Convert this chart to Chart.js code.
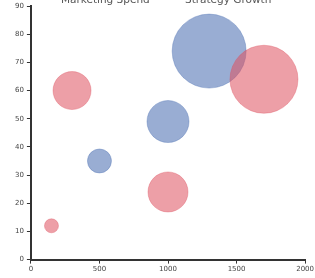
<!DOCTYPE html>
<html>
<head>
<meta charset="utf-8">
<script src="https://cdn.jsdelivr.net/npm/chart.js@4.4.0/dist/chart.umd.min.js"></script>
<style>
    html, body { margin: 0; padding: 0; background: #fff; }
    #wrap { width: 315px; height: 278px; overflow: hidden; position: relative; }
    #chart { position: absolute; left: 0; top: -35px; }
</style>
</head>
<body>
<div id="wrap"><canvas id="chart" width="315" height="313"></canvas></div>
<script>
// series labels
const seriesNames = ['Marketing Spend', 'Strategy Growth'];

// red series: x, y, radius
const redX = [150, 300, 1000, 1700];
const redY = [12, 60, 24, 64];
const redR = [7, 19, 20, 34];

// blue series
const blueX = [500, 1000, 1300];
const blueY = [35, 49, 74];
const blueR = [12, 21, 37];

// axis ticks
const xTicks = [0, 500, 1000, 1500, 2000];
const yTicks = [0, 10, 20, 30, 40, 50, 60, 70, 80, 90];

const toPoints = (xs, ys, rs) => xs.map((x, i) => ({ x: x, y: ys[i], r: rs[i] }));

// the legend sits tight against the plot, so trim its box
const tightLegend = {
    id: 'tightLegend',
    beforeInit(chart) {
        const legend = chart.legend;
        if (!legend) return;
        const fit = legend.fit;
        legend.fit = function() {
            fit.call(this);
            this.height = 41;
        };
    }
};

document.addEventListener('DOMContentLoaded', () => {
    const ctx = document.getElementById('chart');

    const axisColor = '#333';
    const tickFont = { family: 'DejaVu Sans', size: 7 };

    const data = {
        datasets: [{
            label: seriesNames[0],
            data: toPoints(redX, redY, redR),
            backgroundColor: 'rgba(222, 80, 95, 0.55)',
            borderColor: 'rgba(222, 80, 95, 0.35)',
            borderWidth: 1
        }, {
            label: seriesNames[1],
            data: toPoints(blueX, blueY, blueR),
            backgroundColor: 'rgba(70, 105, 175, 0.55)',
            borderColor: 'rgba(70, 105, 175, 0.35)',
            borderWidth: 1
        }]
    };

    const config = {
        type: 'bubble',
        data: data,
        plugins: [tightLegend],
        options: {
            responsive: false,
            animation: false,
            layout: { autoPadding: false, padding: { top: 0, left: 12, right: 0, bottom: 4 } },
            plugins: {
                legend: {
                    labels: {
                        font: { family: 'DejaVu Sans', size: 10.5 },
                        color: '#555',
                        boxWidth: 0,
                        padding: 30
                    }
                },
                tooltip: { enabled: false }
            },
            scales: {
                x: {
                    type: 'linear',
                    min: xTicks[0],
                    max: xTicks[xTicks.length - 1],
                    afterBuildTicks: axis => { axis.ticks = xTicks.map(v => ({ value: v })); },
                    grid: { drawOnChartArea: false, color: axisColor, tickLength: 4 },
                    border: { color: axisColor, width: 2 },
                    ticks: { font: tickFont, color: '#444', padding: 1, maxRotation: 0, callback: v => String(v) }
                },
                y: {
                    type: 'linear',
                    min: yTicks[0],
                    max: yTicks[yTicks.length - 1],
                    afterBuildTicks: axis => { axis.ticks = yTicks.map(v => ({ value: v })); },
                    grid: { drawOnChartArea: false, color: axisColor, tickLength: 4 },
                    border: { color: axisColor, width: 2 },
                    ticks: { font: tickFont, color: '#444', padding: 3 }
                }
            }
        }
    };

    new Chart(ctx, config);
});
</script>
</body>
</html>
